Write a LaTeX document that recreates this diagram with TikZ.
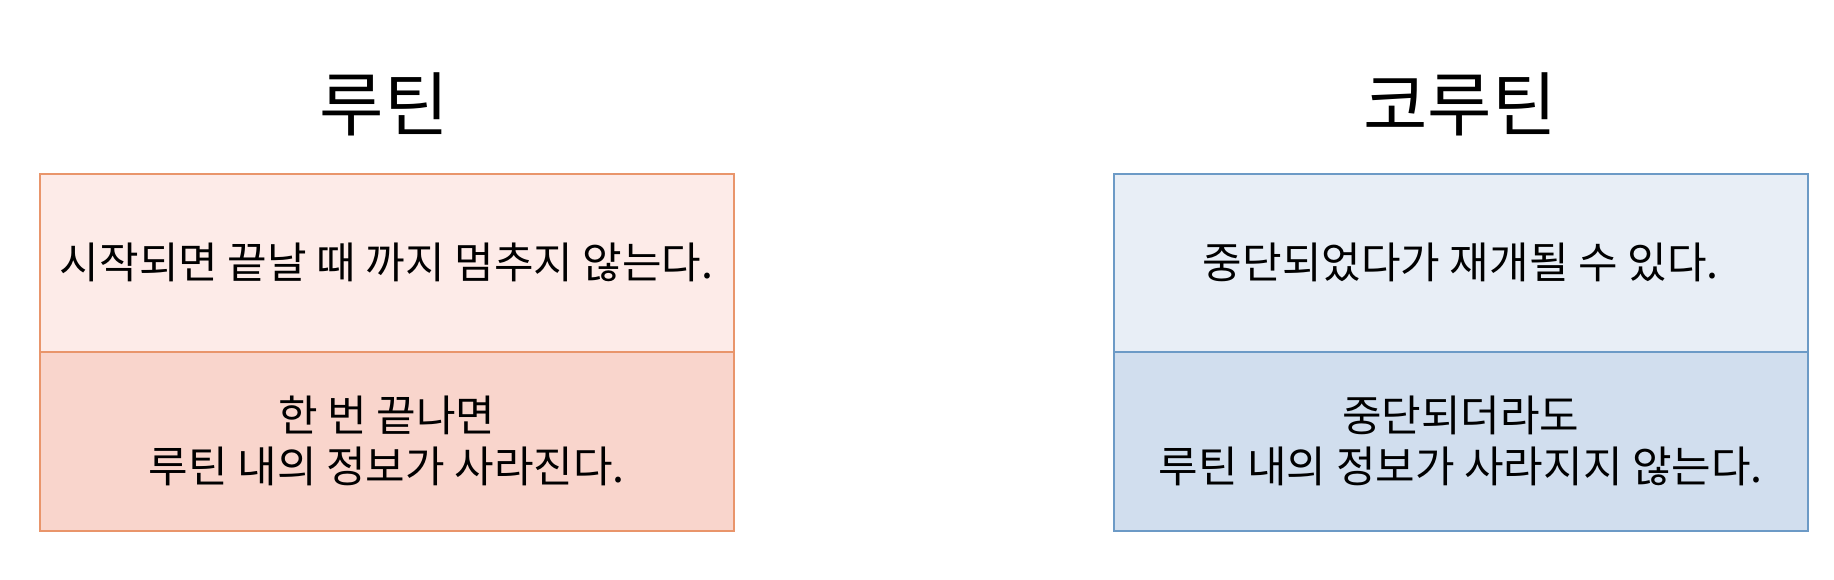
\documentclass[tikz,border=0pt]{standalone}
\usepackage{fontspec}
\setmainfont{Noto Sans CJK KR}
\definecolor{pinkA}{HTML}{FDEBE8}
\definecolor{pinkB}{HTML}{F9D5CC}
\definecolor{pinkLine}{HTML}{E9956B}
\definecolor{blueA}{HTML}{E8EEF6}
\definecolor{blueB}{HTML}{D1DEEE}
\definecolor{blueLine}{HTML}{6C9AC6}
\tikzset{
  cell/.style={draw, line width=1.5pt, anchor=north west, inner sep=0pt,
    minimum width=694pt, minimum height=178pt, align=center,
    font=\fontsize{43}{51}\selectfont},
  title/.style={font=\fontsize{70}{74}\selectfont, inner sep=0pt},
}
\begin{document}
\begin{tikzpicture}[x=1pt,y=-1pt]
\useasboundingbox[fill=white] (0,0) rectangle (1834,579);
\node[title] (t1) at (384,104) {루틴};
\node[title] (t2) at (1460,104) {코루틴};
\node[cell, fill=pinkA, draw=pinkLine] (r1) at (39,173) {시작되면 끝날 때 까지 멈추지 않는다.};
\node[cell, fill=pinkB, draw=pinkLine, minimum height=179pt] (r2) at (39,351) {한 번 끝나면\\루틴 내의 정보가 사라진다.};
\node[cell, fill=blueA, draw=blueLine] (c1) at (1113,173) {중단되었다가 재개될 수 있다.};
\node[cell, fill=blueB, draw=blueLine, minimum height=179pt] (c2) at (1113,351) {중단되더라도\\루틴 내의 정보가 사라지지 않는다.};
\end{tikzpicture}
\end{document}
